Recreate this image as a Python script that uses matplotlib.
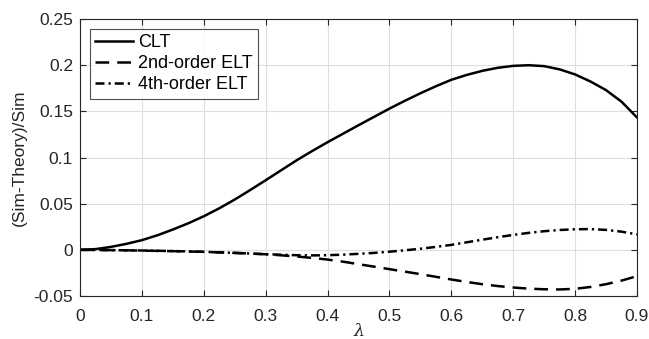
import matplotlib
matplotlib.use("Agg")
import matplotlib.pyplot as plt

plt.rcParams['font.family'] = ['Liberation Sans', 'DejaVu Sans']
plt.rcParams['mathtext.fontset'] = 'dejavuserif'

# values, every 0.025 in lambda
lam = [0.0, 0.025, 0.05, 0.075, 0.1, 0.125, 0.15, 0.175, 0.2, 0.225,
       0.25, 0.275, 0.3, 0.325, 0.35, 0.375, 0.4, 0.425, 0.45, 0.475,
       0.5, 0.525, 0.55, 0.575, 0.6, 0.625, 0.65, 0.675, 0.7, 0.725,
       0.75, 0.775, 0.8, 0.825, 0.85, 0.875, 0.9]
clt = [0.0, 0.0008, 0.0032, 0.0065, 0.0105, 0.0158, 0.0220, 0.0288, 0.0364, 0.0450,
       0.0545, 0.0648, 0.0754, 0.0862, 0.0970, 0.1070, 0.1166, 0.1258, 0.1350, 0.1440,
       0.1530, 0.1615, 0.1696, 0.1772, 0.1842, 0.1895, 0.1939, 0.1972, 0.1993, 0.2000,
       0.1990, 0.1955, 0.1900, 0.1823, 0.1730, 0.1605, 0.1434]
elt2 = [0.0, -0.0001, -0.0003, -0.0005, -0.0008, -0.0011, -0.0014, -0.0018, -0.0022, -0.0027,
        -0.0033, -0.0040, -0.0048, -0.0059, -0.0072, -0.0087, -0.0105, -0.0128, -0.0155, -0.0182,
        -0.0209, -0.0236, -0.0263, -0.0292, -0.0321, -0.0348, -0.0372, -0.0392, -0.0408, -0.0420,
        -0.0427, -0.0429, -0.0422, -0.0402, -0.0372, -0.0333, -0.0285]
elt4 = [0.0, -0.0001, -0.0003, -0.0005, -0.0007, -0.0010, -0.0013, -0.0017, -0.0021, -0.0027,
        -0.0033, -0.0040, -0.0047, -0.0053, -0.0058, -0.0060, -0.0058, -0.0052, -0.0043, -0.0033,
        -0.0020, -0.0005, 0.0012, 0.0032, 0.0054, 0.0082, 0.0110, 0.0137, 0.0162, 0.0184,
        0.0202, 0.0215, 0.0223, 0.0225, 0.0216, 0.0197, 0.0168]

xticks = [0, 0.1, 0.2, 0.3, 0.4, 0.5, 0.6, 0.7, 0.8, 0.9]
xticklabels = ['0', '0.1', '0.2', '0.3', '0.4', '0.5', '0.6', '0.7', '0.8', '0.9']
yticks = [-0.05, 0, 0.05, 0.1, 0.15, 0.2, 0.25]
yticklabels = ['-0.05', '0', '0.05', '0.1', '0.15', '0.2', '0.25']

fig = plt.figure(figsize=(6.49, 3.39), dpi=100)
ax = fig.add_axes([0.1233, 0.1268, 0.8582, 0.817])

ax.plot(lam, clt, color='black', linewidth=1.8, label='CLT')
ax.plot(lam, elt2, color='black', linewidth=1.8, linestyle=(0, (5.5, 3.2)),
        label='2nd-order ELT')
ax.plot(lam, elt4, color='black', linewidth=1.8, linestyle=(0, (3.6, 1.6, 0.9, 1.6)),
        label='4th-order ELT')

ax.set_xlim(0, 0.9)
ax.set_ylim(-0.05, 0.25)
ax.set_xticks(xticks)
ax.set_xticklabels(xticklabels)
ax.set_yticks(yticks)
ax.set_yticklabels(yticklabels)
ax.tick_params(direction='in', length=4, top=True, right=True, labelsize=12.5,
               color='#262626', labelcolor='#262626', width=0.8)
ax.tick_params(axis='x', pad=9)
ax.tick_params(axis='y', pad=5)
for sp in ax.spines.values():
    sp.set_color('#262626')
    sp.set_linewidth(0.8)
ax.grid(True, color='#dedede', linewidth=0.8)
ax.set_axisbelow(True)

ax.set_xlabel(r'$\lambda$', fontsize=12.5, color='#262626', labelpad=-1)
ax.set_ylabel('(Sim-Theory)/Sim', fontsize=12.5, color='#262626', labelpad=5)

leg = ax.legend(loc='upper left', fontsize=13, frameon=True, fancybox=False,
                edgecolor='#262626', handlelength=2.1, handletextpad=0.25,
                borderpad=0.3, labelspacing=0.22, borderaxespad=0.55)
leg.get_frame().set_linewidth(0.8)

fig.savefig('out.png', dpi=100)
